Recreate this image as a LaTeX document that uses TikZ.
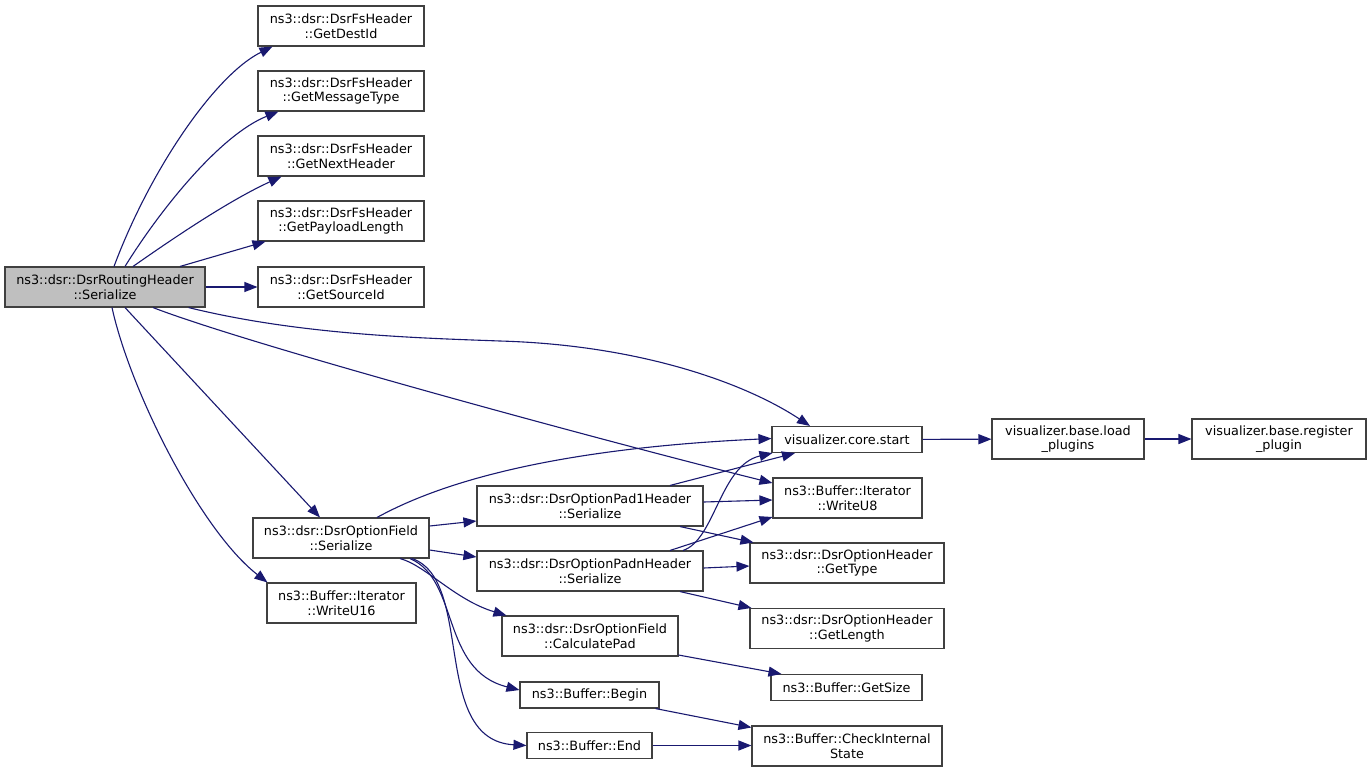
\documentclass[tikz,border=0pt]{standalone}
\usepackage{fontspec}
\setmainfont{DejaVu Sans}
\usetikzlibrary{arrows.meta}
\definecolor{edgec}{HTML}{191970}
\definecolor{boxc}{HTML}{404040}
\definecolor{mainfill}{HTML}{BFBFBF}
\begin{document}
\begin{tikzpicture}[x=1pt,y=-1pt,
  fn/.style={draw=boxc, line width=1.1pt, fill=white, inner sep=0pt, align=center,
    font=\fontsize{12.8}{14.7}\selectfont},
  e/.style={draw=edgec, line width=1.1pt, -{Triangle[length=13pt,width=10pt,fill=edgec]}}]
\useasboundingbox[fill=white] (0,0) rectangle (1372,772);
% nodes
\node[fn, fill=mainfill, minimum width=200pt, minimum height=40pt] (M) at (105,287) {ns3::dsr::DsrRoutingHeader\\::Serialize};
\node[fn, minimum width=166pt, minimum height=40pt] (GD) at (341,26) {ns3::dsr::DsrFsHeader\\::GetDestId};
\node[fn, minimum width=166pt, minimum height=40pt] (GMT) at (341,91) {ns3::dsr::DsrFsHeader\\::GetMessageType};
\node[fn, minimum width=166pt, minimum height=40pt] (GNH) at (341,156) {ns3::dsr::DsrFsHeader\\::GetNextHeader};
\node[fn, minimum width=166pt, minimum height=40pt] (GPL) at (341,221) {ns3::dsr::DsrFsHeader\\::GetPayloadLength};
\node[fn, minimum width=166pt, minimum height=40pt] (GSI) at (341,287) {ns3::dsr::DsrFsHeader\\::GetSourceId};
\node[fn, minimum width=176pt, minimum height=40pt] (OF) at (341,538) {ns3::dsr::DsrOptionField\\::Serialize};
\node[fn, minimum width=149pt, minimum height=40pt] (WU16) at (341.5,603) {ns3::Buffer::Iterator\\::WriteU16};
\node[fn, minimum width=226pt, minimum height=40pt] (P1) at (590,506) {ns3::dsr::DsrOptionPad1Header\\::Serialize};
\node[fn, minimum width=226pt, minimum height=40pt] (PN) at (590,571) {ns3::dsr::DsrOptionPadnHeader\\::Serialize};
\node[fn, minimum width=176pt, minimum height=40pt] (CP) at (590,636) {ns3::dsr::DsrOptionField\\::CalculatePad};
\node[fn, minimum width=139pt, minimum height=26pt] (BG) at (589.5,695) {ns3::Buffer::Begin};
\node[fn, minimum width=125pt, minimum height=26pt] (END) at (589.5,745.5) {ns3::Buffer::End};
\node[fn, minimum width=150pt, minimum height=26pt] (CS) at (847,439.5) {visualizer.core.start};
\node[fn, minimum width=149pt, minimum height=40pt] (WU8) at (847.5,498) {ns3::Buffer::Iterator\\::WriteU8};
\node[fn, minimum width=194pt, minimum height=40pt] (GT) at (847,563) {ns3::dsr::DsrOptionHeader\\::GetType};
\node[fn, minimum width=194pt, minimum height=40pt] (GL) at (847,628.5) {ns3::dsr::DsrOptionHeader\\::GetLength};
\node[fn, minimum width=151pt, minimum height=26pt] (GS) at (846.5,687.5) {ns3::Buffer::GetSize};
\node[fn, minimum width=190pt, minimum height=40pt] (CIS) at (847,746) {ns3::Buffer::CheckInternal\\State};
\node[fn, minimum width=152pt, minimum height=40pt] (LP) at (1068,439) {visualizer.base.load\\\_plugins};
\node[fn, minimum width=174pt, minimum height=40pt] (RP) at (1279,439) {visualizer.base.register\\\_plugin};
% edges from main
\draw[e] ([xshift=9pt]M.north) .. controls (150,170) and (215,75) .. ([xshift=15pt]GD.south west);
\draw[e] ([xshift=20pt]M.north) .. controls (160,210) and (220,135) .. ([xshift=21pt]GMT.south west);
\draw[e] ([xshift=28pt]M.north) .. controls (175,237) and (230,200) .. ([xshift=24pt]GNH.south west);
\draw[e] ([xshift=75pt]M.north) -- ([xshift=8pt]GPL.south west);
\draw[e] (M) -- (GSI);
\draw[e] ([xshift=-17pt]M.south east) .. controls (300,335) and (420,338) .. (500,341)
  .. controls (640,345) and (745,383) .. ([xshift=-37pt]CS.north);
\draw[e] ([xshift=48pt]M.south) .. controls (250,345) and (600,440) .. ([yshift=15pt]WU8.west);
\draw[e] ([xshift=20pt]M.south) -- ([xshift=-21pt]OF.north);
\draw[e] ([xshift=7pt]M.south) .. controls (130,390) and (200,530) .. ([xshift=1pt]WU16.north west);
% edges from OptionField::Serialize
\draw[e] ([xshift=36pt]OF.north) .. controls (420,494) and (520,450) .. ([yshift=1pt]CS.west);
\draw[e] ([yshift=12pt]OF.east) -- ([yshift=-15pt]P1.west);
\draw[e] ([yshift=-12pt]OF.east) -- ([yshift=14pt]PN.west);
\draw[e] ([xshift=59pt]OF.south) .. controls (425,565) and (455,600) .. ([xshift=5pt]CP.north west);
\draw[e] ([xshift=69pt]OF.south) .. controls (460,580) and (440,670) .. ([yshift=5pt]BG.west);
\draw[e] ([xshift=71pt]OF.south) .. controls (475,580) and (430,740) .. (END.west);
% edges from Pad1
\draw[e] ([xshift=80pt]P1.north) -- ([xshift=-52pt]CS.south);
\draw[e] ([yshift=4pt]P1.east) -- ([yshift=-2pt]WU8.west);
\draw[e] ([xshift=90pt]P1.south) -- ([xshift=4pt]GT.north west);
% edges from Padn
\draw[e] ([xshift=93pt]PN.north) .. controls (715,540) and (720,465) .. ([xshift=1pt]CS.south west);
\draw[e] ([xshift=80pt]PN.north) -- ([yshift=-19pt]WU8.west);
\draw[e] ([yshift=3pt]PN.east) -- ([yshift=-3pt]GT.west);
\draw[e] ([xshift=90pt]PN.south) -- ([xshift=2pt]GL.north west);
% others
\draw[e] ([yshift=-19pt]CP.east) -- ([xshift=11pt]GS.north west);
\draw[e] ([xshift=-4pt]BG.south east) -- ([yshift=-2pt]CIS.north west);
\draw[e] (END.east) -- (END.east -| CIS.west);
\draw[e] (CS) -- (LP);
\draw[e] (LP) -- (RP);
\end{tikzpicture}
\end{document}
